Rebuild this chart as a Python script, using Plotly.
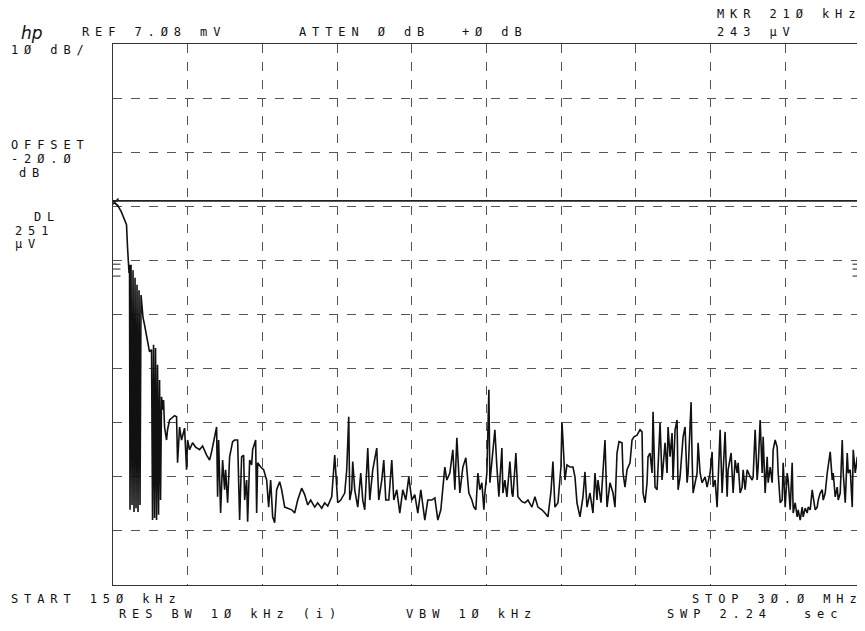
import plotly.graph_objects as go

# ---- data (frequency in MHz, level in dBuV) ----
freq_mhz = [0.21,0.33,0.48,0.61,0.69,0.73,0.77,0.79,0.81,0.83,0.87,0.91,0.95,0.99,1.03,1.07,1.11,1.15,1.19,1.23,
1.27,1.31,1.35,1.41,1.49,1.53,1.61,1.69,1.73,1.77,1.81,1.85,1.89,1.93,1.97,2.01,2.05,2.09,2.13,2.17,
2.21,2.29,2.33,2.41,2.53,2.61,2.69,2.73,2.81,2.89,3.01,3.09,3.13,3.21,3.33,3.45,3.61,3.73,3.89,4.01,
4.09,4.21,4.29,4.33,4.37,4.45,4.53,4.61,4.65,4.73,4.81,4.93,5.01,5.13,5.21,5.29,5.37,5.41,5.49,5.53,
5.61,5.69,5.73,5.85,5.89,5.93,6.05,6.17,6.29,6.37,6.45,6.53,6.61,6.69,6.81,6.89,7.01,7.13,7.29,7.41,
7.53,7.69,7.81,7.93,8.05,8.21,8.33,8.49,8.61,8.73,8.89,9.01,9.07,9.13,9.25,9.41,9.49,9.57,9.61,9.69,
9.73,9.81,9.93,10.05,10.13,10.21,10.33,10.41,10.53,10.69,10.77,10.89,10.97,11.05,11.17,11.29,11.37,11.49,11.61,11.73,
11.85,11.97,12.09,12.21,12.33,12.45,12.61,12.73,12.89,13.01,13.13,13.25,13.41,13.49,13.61,13.73,13.81,13.89,14.01,14.13,
14.25,14.37,14.49,14.57,14.65,14.73,14.81,14.89,14.97,15.01,15.09,15.17,15.21,15.29,15.33,15.41,15.49,15.57,15.69,15.73,
15.81,15.89,16.01,16.09,16.13,16.25,16.33,16.49,16.61,16.73,16.89,17.01,17.13,17.29,17.41,17.53,17.65,17.73,17.81,17.93,
18.05,18.09,18.13,18.21,18.29,18.41,18.53,18.61,18.69,18.81,18.93,19.01,19.09,19.21,19.33,19.41,19.49,19.53,19.65,19.73,
19.81,19.89,20.01,20.13,20.21,20.29,20.37,20.49,20.53,20.61,20.69,20.81,20.89,20.97,21.09,21.21,21.29,21.33,21.41,21.49,
21.53,21.61,21.69,21.73,21.81,21.89,21.93,22.01,22.09,22.13,22.21,22.29,22.33,22.41,22.49,22.53,22.61,22.69,22.73,22.81,
22.89,22.93,23.01,23.09,23.13,23.21,23.25,23.29,23.33,23.49,23.53,23.61,23.69,23.81,23.89,24.01,24.09,24.13,24.21,24.29,
24.33,24.41,24.49,24.53,24.61,24.69,24.73,24.85,24.93,25.01,25.09,25.13,25.21,25.29,25.33,25.41,25.49,25.61,25.69,25.73,
25.81,25.89,25.93,26.01,26.09,26.13,26.21,26.29,26.33,26.41,26.49,26.53,26.61,26.69,26.73,26.81,26.89,26.93,27.01,27.09,
27.13,27.21,27.29,27.33,27.41,27.49,27.53,27.61,27.69,27.73,27.81,27.89,27.93,28.01,28.09,28.13,28.21,28.29,28.33,28.41,
28.49,28.53,28.61,28.69,28.73,28.81,28.89,28.93,29.01,29.09,29.13,29.21,29.29,29.33,29.41,29.49,29.53,29.61,29.69,29.73,
29.81,29.89,29.93,30.00]

level_dbuv = [47.6,47.2,46.0,44.5,43.6,39.5,36.7,34.7,36.2,-9.1,36.2,-8.2,35.2,-9.5,33.8,-8.8,32.5,-9.5,31.5,-8.2,
30.6,28.8,26.4,25.1,23.2,22.3,20.1,20.5,-11.0,21.4,-10.6,20.8,-11.0,17.7,-10.0,14.9,-7.3,11.8,9.4,11.2,
6.2,3.8,5.7,7.5,7.9,8.3,8.1,-0.4,6.2,3.8,6.0,-1.7,3.8,2.0,3.3,2.5,2.0,2.7,1.0,0.1,
1.6,4.4,6.2,-6.7,3.8,-9.7,0.1,-5.4,-1.7,-7.8,0.7,3.5,3.8,3.8,-11.0,0.7,1.0,-7.3,-3.6,-11.3,
0.1,-0.8,2.0,3.8,-9.7,-0.4,-1.2,-1.7,-3.6,-8.6,-3.6,-10.4,-11.5,-5.4,-3.9,-5.4,-8.6,-8.8,-9.1,-9.7,
-7.3,-5.1,-6.3,-8.2,-7.3,-8.6,-7.8,-8.8,-7.8,-8.4,-6.7,1.0,-3.6,-7.8,-7.3,-6.0,-1.7,8.1,-7.3,-5.4,
-0.2,-5.4,-8.6,-2.3,-7.3,-9.1,2.3,-7.3,-1.7,2.3,-7.3,-3.6,0.1,-7.3,-7.3,0.1,-7.3,-5.4,-9.7,-5.4,
-7.3,-3.0,-7.3,-6.3,-9.7,-5.4,-11.0,-7.3,-7.3,-6.9,-11.0,-9.1,-1.2,-3.6,-2.3,2.0,-5.4,4.2,-6.0,-1.2,
0.5,-6.0,-7.3,-8.6,-9.1,-2.3,-5.4,-4.1,-9.1,-6.0,-2.3,13.1,-4.1,0.1,2.5,5.7,-1.2,-6.7,2.3,-6.0,
-3.6,-6.7,-0.2,-6.0,-6.7,1.4,-6.7,-7.6,-7.8,-7.3,-8.6,-6.7,-8.6,-9.1,-9.7,-10.4,-5.8,-0.2,-8.6,-7.8,
-1.2,7.1,3.8,-3.6,-0.8,-1.2,-1.2,-3.0,-7.8,-10.4,-6.7,-2.1,-8.6,-6.0,-9.7,-2.3,-7.3,-3.6,-7.8,-1.2,
3.8,-8.6,-4.1,-6.0,-8.6,1.4,3.5,3.3,-2.3,-4.9,-1.7,-0.4,3.8,4.4,4.7,5.7,5.3,-6.0,-7.8,-4.1,
0.7,1.4,-2.3,9.0,-4.9,-5.4,0.1,7.0,-3.6,-1.2,3.3,-2.3,6.2,0.7,5.1,-3.6,5.7,7.5,-5.4,-3.0,
1.4,4.4,6.2,-4.1,-2.3,6.2,10.8,0.7,-6.0,-2.3,3.3,-2.3,-4.1,-3.0,-4.9,-2.3,1.6,-4.9,-3.6,-8.6,
-2.3,5.7,-6.0,-1.2,5.3,-6.7,-1.7,1.4,-6.0,0.1,-2.3,-0.4,-6.0,-4.9,-1.7,-5.4,-1.7,-3.0,-3.6,-3.0,
5.7,-3.6,-1.2,7.5,-2.3,4.4,-6.0,0.7,-4.1,-1.2,-4.1,2.0,3.8,2.5,-2.3,-7.8,-7.3,-0.4,-8.6,-2.3,
-3.6,-9.1,-0.4,-9.7,-7.8,-10.4,-9.1,-11.0,-8.6,-10.4,-8.8,-9.7,-8.6,-9.1,-5.4,-6.7,-9.1,-8.6,-7.3,-6.0,
-5.4,-7.3,-6.0,-2.3,-1.2,1.6,-3.6,-2.3,-6.7,-4.9,-7.3,-6.0,3.8,-2.3,-7.8,1.4,-2.3,-1.7,-8.6,2.0,
-2.3,0.7,-4.1,2.3]

ref_level_dbuv = 77.0      # REF 7.08 mV
db_per_div = 10
start_mhz = 0.15
stop_mhz = 30.0
display_line_dbuv = 48.0   # DL 251 uV
marker_mhz = 0.21
marker_dbuv = 47.7         # MKR 243 uV
ref_tick_levels = [36.3, 35.4, 34.1]

top_texts = [
    ("REF 7.Ø8 mV", -0.0448, 1.0231),
    ("ATTEN Ø dB", 0.2457, 1.0231),
    ("+Ø dB", 0.4639, 1.0231),
    ("MKR 21Ø kHz", 0.806, 1.0563),
    ("243 µV", 0.806, 1.0222),
]
left_texts = [
    ("1Ø dB/", -0.139, 0.989),
    ("OFFSET", -0.139, 0.8126),
    ("-2Ø.Ø", -0.139, 0.7867),
    ("dB", -0.129, 0.7608),
    ("DL", -0.109, 0.680),
    ("251", -0.134, 0.655),
    ("µV", -0.134, 0.630),
]
bottom_texts = [
    ("START 15Ø kHz", -0.139, -0.025),
    ("RES BW 1Ø kHz (i)", 0.0047, -0.053),
    ("VBW 1Ø kHz", 0.3902, -0.053),
    ("STOP 3Ø.Ø MHz", 0.7718, -0.025),
    ("SWP 2.24", 0.7383, -0.053),
    ("sec", 0.9217, -0.053),
]

FONT = "DejaVu Sans Mono"
SP = "letter-spacing:5.9px"

fig = go.Figure()
fig.add_trace(go.Scatter(x=freq_mhz, y=level_dbuv, mode="lines",
                         line=dict(color="#111", width=1.6), hoverinfo="skip"))
fig.add_trace(go.Scatter(x=[marker_mhz], y=[marker_dbuv], mode="markers",
                         marker=dict(symbol="x-thin", size=8, line=dict(color="#111", width=1.5))))

fig.add_shape(type="line", xref="paper", x0=0, x1=1, y0=display_line_dbuv, y1=display_line_dbuv,
              line=dict(color="#222", width=1.6))
for lv in ref_tick_levels:
    fig.add_shape(type="line", xref="paper", x0=0, x1=0.01, y0=lv, y1=lv, line=dict(color="#222", width=1))
    fig.add_shape(type="line", xref="paper", x0=0.99, x1=1, y0=lv, y1=lv, line=dict(color="#222", width=1))

def ann(t, x, y, size=12):
    fig.add_annotation(text=f'<span style="{SP}">{t}</span>', x=x, y=y, xref="paper", yref="paper",
                       xanchor="left", yanchor="middle", showarrow=False,
                       font=dict(family=FONT, size=size, color="#111"))

for t, x, y in top_texts + left_texts + bottom_texts:
    ann(t, x, y)

fig.add_annotation(text="<i>hp</i>", x=-0.109, y=1.0203, xref="paper", yref="paper",
                   xanchor="center", yanchor="middle",
                   showarrow=False, font=dict(family="DejaVu Sans", size=17, color="#111"))

span = stop_mhz - start_mhz
fig.update_xaxes(range=[start_mhz, stop_mhz], tick0=start_mhz, dtick=span / 10,
                 showticklabels=False, ticks="", showgrid=True, gridcolor="#555", griddash="dash",
                 gridwidth=1, zeroline=False, showline=True, mirror=True, linecolor="#333", linewidth=1)
fig.update_yaxes(range=[ref_level_dbuv - 10 * db_per_div, ref_level_dbuv],
                 tick0=ref_level_dbuv, dtick=db_per_div,
                 showticklabels=False, ticks="", showgrid=True, gridcolor="#555", griddash="dash",
                 gridwidth=1, zeroline=False, showline=True, mirror=True, linecolor="#333", linewidth=1)

fig.update_layout(width=857, height=623, showlegend=False,
                  margin=dict(l=105, r=5, t=36, b=46),
                  plot_bgcolor="white", paper_bgcolor="white")

fig.write_html("out.html")
